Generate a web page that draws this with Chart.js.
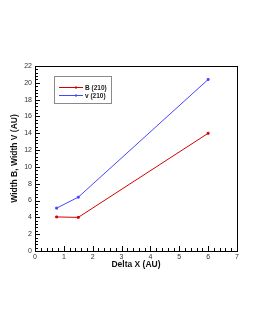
<!DOCTYPE html>
<html>
<head>
<meta charset="utf-8">
<script src="https://cdn.jsdelivr.net/npm/chart.js@4"></script>
<style>
  html, body { margin: 0; padding: 0; background: #fff; }
  #wrap { width: 255px; height: 330px; }
</style>
</head>
<body>
<div id="wrap"><canvas id="chart" width="255" height="330"></canvas></div>
<script>
// Data
const deltaX = [0.75, 1.5, 6]
const widthB = [4.05, 4.0, 14.0]
const widthV = [5.1, 6.4, 20.4]
const seriesNames = ["B (210)", "v (210)"]
const xTicks = [0, 1, 2, 3, 4, 5, 6, 7]
const yTicks = [0, 2, 4, 6, 8, 10, 12, 14, 16, 18, 20, 22]

const RED = "#d40000"
const BLUE = "#4646ff"

// frame, inward ticks (major + 4 minor) and the boxed legend
const framePlugin = {
  id: "frame",
  afterDraw(chart) {
    const { ctx, chartArea: a, scales } = chart
    const x = scales.x
    const y = scales.y
    ctx.save()
    ctx.strokeStyle = "#000"
    ctx.lineWidth = 1
    ctx.strokeRect(a.left + 0.5, a.top + 0.5, a.right - a.left, a.bottom - a.top)

    // x ticks
    for (let i = 0; i < xTicks.length; i++) {
      const px = Math.round(x.getPixelForValue(xTicks[i])) + 0.5
      ctx.beginPath()
      ctx.moveTo(px, a.bottom)
      ctx.lineTo(px, a.bottom - 5)
      ctx.stroke()
      if (i < xTicks.length - 1) {
        const step = (xTicks[i + 1] - xTicks[i]) / 5
        for (let k = 1; k < 5; k++) {
          const mx = Math.round(x.getPixelForValue(xTicks[i] + k * step)) + 0.5
          ctx.beginPath()
          ctx.moveTo(mx, a.bottom)
          ctx.lineTo(mx, a.bottom - 3)
          ctx.stroke()
        }
      }
    }
    // y ticks
    for (let i = 0; i < yTicks.length; i++) {
      const py = Math.round(y.getPixelForValue(yTicks[i])) + 0.5
      ctx.beginPath()
      ctx.moveTo(a.left, py)
      ctx.lineTo(a.left + 5, py)
      ctx.stroke()
      if (i < yTicks.length - 1) {
        const step = (yTicks[i + 1] - yTicks[i]) / 5
        for (let k = 1; k < 5; k++) {
          const my = Math.round(y.getPixelForValue(yTicks[i] + k * step)) + 0.5
          ctx.beginPath()
          ctx.moveTo(a.left, my)
          ctx.lineTo(a.left + 3, my)
          ctx.stroke()
        }
      }
    }

    // legend box
    const lx = a.left + 19
    const ly = a.top + 10
    ctx.strokeStyle = "#8a8a8a"
    ctx.strokeRect(lx + 0.5, ly + 0.5, 57, 27)
    ctx.font = "bold 6.5px 'Liberation Sans', Arial, sans-serif"
    ctx.textBaseline = "middle"
    chart.data.datasets.forEach((ds, i) => {
      const yy = ly + 11.5 + i * 8
      ctx.strokeStyle = ds.borderColor
      ctx.beginPath()
      ctx.moveTo(lx + 5, yy)
      ctx.lineTo(lx + 29, yy)
      ctx.stroke()
      ctx.fillStyle = ds.borderColor
      ctx.fillRect(lx + 21, yy - 1, 2, 2)
      ctx.fillStyle = "#222"
      ctx.fillText(ds.label, lx + 31, yy + 0.5)
    })
    ctx.restore()
  },
}

function makeDataset(label, ys, color) {
  return {
    label: label,
    data: deltaX.map((v, i) => ({ x: v, y: ys[i] })),
    borderColor: color,
    backgroundColor: color,
    borderWidth: 1,
    pointStyle: "rect",
    pointRadius: 1.3,
    tension: 0,
  }
}

new Chart(document.getElementById("chart"), {
  type: "line",
  data: {
    datasets: [
      makeDataset(seriesNames[0], widthB, RED),
      makeDataset(seriesNames[1], widthV, BLUE),
    ],
  },
  options: {
    responsive: false,
    animation: false,
    layout: { padding: { top: 66, right: 18, bottom: 60, left: 10 } },
    plugins: { legend: { display: false }, tooltip: { enabled: false } },
    scales: {
      x: {
        type: "linear",
        min: 0,
        max: 7,
        afterBuildTicks: (s) => { s.ticks = xTicks.map((v) => ({ value: v })) },
        afterFit: (s) => { s.height = 19 },
        grid: { display: false, drawTicks: false },
        border: { display: false },
        ticks: {
          padding: 2,
          color: "#333",
          font: { family: "'Liberation Sans', Arial, sans-serif", size: 7 },
        },
        title: {
          display: true,
          text: "Delta X (AU)",
          color: "#111",
          padding: 0,
          font: { family: "'Liberation Sans', Arial, sans-serif", size: 8.5, weight: "bold" },
        },
      },
      y: {
        type: "linear",
        min: 0,
        max: 22,
        afterBuildTicks: (s) => { s.ticks = yTicks.map((v) => ({ value: v })) },
        afterFit: (s) => { s.width = 25 },
        grid: { display: false, drawTicks: false },
        border: { display: false },
        ticks: {
          padding: 3,
          color: "#333",
          font: { family: "'Liberation Sans', Arial, sans-serif", size: 7 },
        },
        title: {
          display: true,
          text: "Width B, Width V (AU)",
          color: "#111",
          padding: 0,
          font: { family: "'Liberation Sans', Arial, sans-serif", size: 8.5, weight: "bold" },
        },
      },
    },
  },
  plugins: [framePlugin],
})
</script>
</body>
</html>
